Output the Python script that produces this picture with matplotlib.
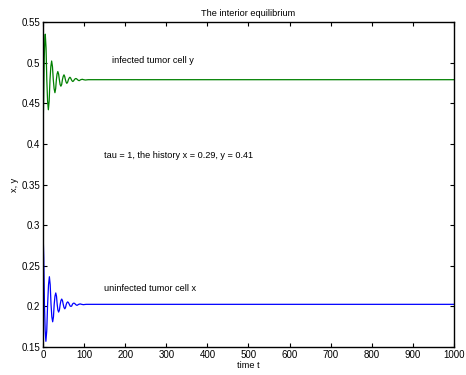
import matplotlib
matplotlib.use("Agg")
import matplotlib.pyplot as plt

# infected tumor cells y(t), damped oscillation towards the interior equilibrium
t_y = [0, 1.5, 3, 4.3, 5.5, 7.4, 9.2, 11.1, 13, 15, 17, 19, 21, 23, 25, 27, 29,
       30.8, 32.5, 34.2, 36, 37.9, 39.8, 41.6, 43.5, 45.4, 47.2, 49.1, 51, 52.8,
       54.5, 56.2, 58, 60, 61.8, 63.6, 65.5, 67.3, 69, 70.8, 72.5, 74.4, 76.2,
       78.1, 80, 82, 84, 86, 88, 91.8, 95.5, 99, 103, 110, 1000]
infected_y = [0.41, 0.455, 0.505, 0.528, 0.535, 0.518, 0.479, 0.453, 0.442,
              0.453, 0.479, 0.495, 0.502, 0.495, 0.479, 0.468, 0.463, 0.468,
              0.479, 0.486, 0.489, 0.486, 0.479, 0.473, 0.471, 0.473, 0.479,
              0.483, 0.485, 0.483, 0.479, 0.476, 0.4745, 0.476, 0.479, 0.481,
              0.482, 0.481, 0.479, 0.4775, 0.4768, 0.4775, 0.479, 0.480, 0.4805,
              0.480, 0.479, 0.4782, 0.4778, 0.479, 0.4795, 0.479, 0.4786, 0.479,
              0.479]

# uninfected tumor cells x(t)
t_x = [0, 1.8, 3.5, 5.3, 7, 9.1, 11.2, 13.4, 15.5, 17.5, 19.5, 21.5, 23.5, 25.4,
       27.2, 29.1, 31, 32.8, 34.5, 36.2, 38, 39.9, 41.8, 43.6, 45.5, 47.4, 49.2,
       51.1, 53, 54.8, 56.5, 58.2, 60, 62, 64, 66, 68, 69.8, 71.5, 73.2, 75, 77,
       79, 81, 83, 86.8, 90.5, 94, 98, 105, 1000]
uninfected_x = [0.294, 0.26, 0.2025, 0.170, 0.157, 0.170, 0.2025, 0.2265,
                0.2365, 0.2265, 0.2025, 0.187, 0.181, 0.187, 0.2025, 0.2125,
                0.2165, 0.2125, 0.2025, 0.1955, 0.193, 0.1955, 0.2025, 0.2071,
                0.209, 0.2071, 0.2025, 0.1986, 0.197, 0.1986, 0.2025, 0.2046,
                0.2055, 0.2046, 0.2025, 0.2004, 0.2, 0.2004, 0.2025, 0.2036,
                0.204, 0.2036, 0.2025, 0.2016, 0.2013, 0.2025, 0.203, 0.2025,
                0.2021, 0.2025, 0.2025]

xticks = list(range(0, 1001, 100))
yticks = [0.15, 0.2, 0.25, 0.3, 0.35, 0.4, 0.45, 0.5, 0.55]
ytick_labels = ["0.15", "0.2", "0.25", "0.3", "0.35", "0.4", "0.45", "0.5", "0.55"]

plt.rcParams["font.family"] = ["Liberation Sans", "DejaVu Sans"]
plt.rcParams["font.size"] = 6.6

fig = plt.figure(figsize=(4.66, 3.75), dpi=100)
ax = fig.add_axes([0.0923, 0.0747, 0.8819, 0.8666])

ax.plot(t_y, infected_y, color=(0, 0.5, 0), linewidth=0.9)
ax.plot(t_x, uninfected_x, color=(0, 0, 1), linewidth=0.9)

ax.text(167, 0.503, "infected tumor cell y", va="center")
ax.text(148, 0.386, "tau = 1, the history x = 0.29, y = 0.41", va="center")
ax.text(148, 0.2226, "uninfected tumor cell x", va="center")

ax.set_xlim(0, 1000)
ax.set_ylim(0.15, 0.55)
ax.set_xticks(xticks)
ax.set_yticks(yticks)
ax.set_yticklabels(ytick_labels)
ax.tick_params(direction="in", top=True, right=True, length=3, width=0.8, pad=2,
               labelsize=7)
for s in ax.spines.values():
    s.set_linewidth(1.0)

ax.set_title("The interior equilibrium", fontsize=6.6, pad=4)
ax.set_xlabel("time t", fontsize=6.6, labelpad=1)
ax.set_ylabel("x, y", fontsize=6.6, labelpad=2)

fig.savefig("out.png", dpi=100)
